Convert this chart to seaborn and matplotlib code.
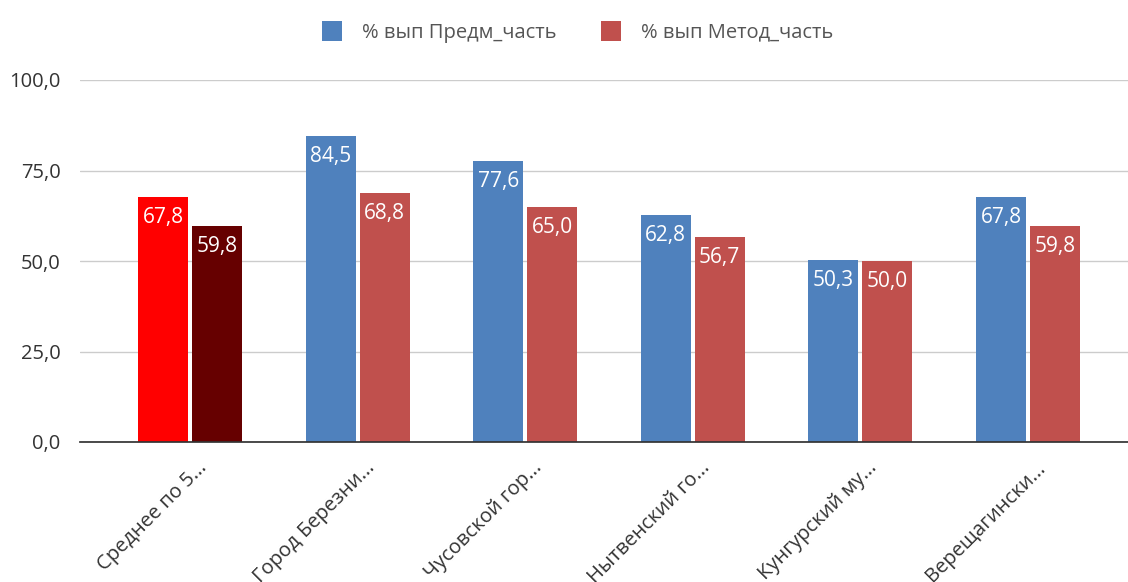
import pandas as pd
import matplotlib.pyplot as plt
import matplotlib.transforms as mtransforms
from matplotlib.patches import Patch
import seaborn as sns

# Data
categories = ['Среднее по 5...', 'Город Березни...', 'Чусовской гор...',
              'Нытвенский го...', 'Кунгурский му...', 'Верещагински...']
series = ['% вып Предм_часть', '% вып Метод_часть']
predm = [67.8, 84.5, 77.6, 62.8, 50.3, 67.8]
metod = [59.8, 68.8, 65.0, 56.7, 50.0, 59.8]
yticks = [0, 25, 50, 75, 100]

colors = ['#4f81bd', '#c0504d']
first_colors = ['#ff0000', '#660000']

data = pd.DataFrame({
    'cat': categories * 2,
    'series': [series[0]] * len(categories) + [series[1]] * len(categories),
    'value': predm + metod,
})

sns.set_theme(style='white')
plt.rcParams['font.family'] = ['Open Sans', 'DejaVu Sans']

fig = plt.figure(figsize=(11.28, 5.82), dpi=100)
ax = fig.add_axes([80 / 1128, 1 - 442 / 582, 1 - 80 / 1128, (442 - 80) / 582])

sns.barplot(data=data, x='cat', y='value', hue='series', palette=colors,
            width=0.62, ax=ax, legend=False, saturation=1)

# leave a small gap between paired bars, color the first group
n = len(categories)
for i, p in enumerate(ax.patches[:2 * n]):
    w = p.get_width()
    gap = 0.012
    if i % n == 0:
        p.set_facecolor(first_colors[i // n])
    if i // n == 1:
        p.set_x(p.get_x() + gap)
    p.set_width(w - gap)
    p.set_edgecolor('none')
    h = p.get_height()
    ax.text(p.get_x() + p.get_width() / 2, h - 2.8, f'{h:.1f}'.replace('.', ','),
            ha='center', va='top', color='white', fontsize=15)

ax.set_ylim(0, 100)
ax.set_xlim(-0.656, 5.597)
ax.set_yticks(yticks)
ax.set_yticklabels([f'{v:.1f}'.replace('.', ',') for v in yticks], color='#333333', fontsize=14.5)
ax.yaxis.grid(True, color='#cccccc', linewidth=1)
ax.set_axisbelow(True)
ax.set_xlabel('')
ax.set_ylabel('')
for s in ['top', 'right', 'left']:
    ax.spines[s].set_visible(False)
ax.spines['bottom'].set_color('#333333')
ax.tick_params(axis='y', length=0, pad=14)
ax.tick_params(axis='x', length=0)

offset = mtransforms.ScaledTranslation(0.07, -0.11, fig.dpi_scale_trans)
ax.set_xticks(range(n))
ax.set_xticklabels(categories, rotation=45, ha='right', rotation_mode='anchor',
                   color='#333333', fontsize=14.5)
for lbl in ax.get_xticklabels():
    lbl.set_transform(lbl.get_transform() + offset)

handles = [Patch(facecolor=c, edgecolor='none') for c in colors]
fig.legend(handles, series, loc='center', bbox_to_anchor=(0.512, 0.945), ncol=2,
           frameon=False, fontsize=14.5, handlelength=1.0, handleheight=1.1,
           handletextpad=1.0, columnspacing=2.2, labelcolor='#555555')

fig.savefig('out.png', dpi=100)
